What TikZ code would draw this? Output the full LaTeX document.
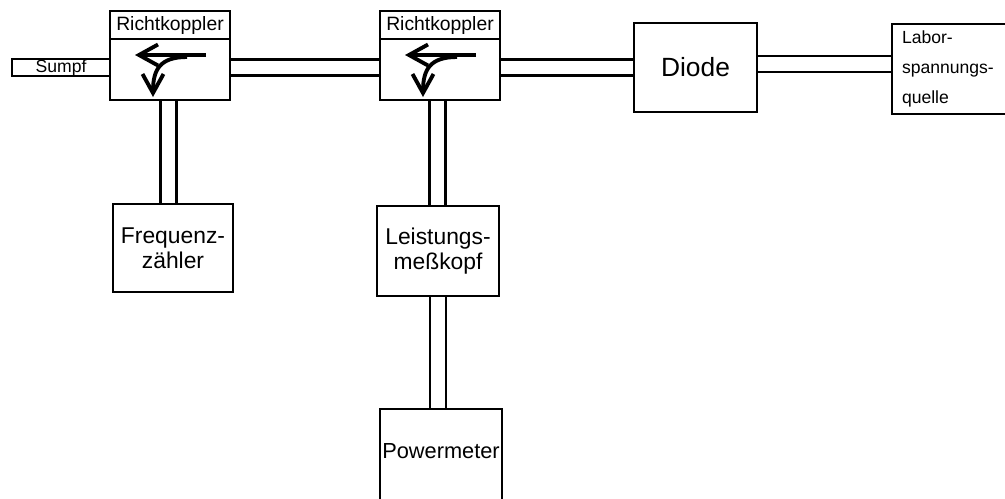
\documentclass[tikz,border=0pt]{standalone}
\usepackage{fontspec}
\setmainfont{Liberation Sans}
\usetikzlibrary{arrows.meta,positioning}

\begin{document}
\begin{tikzpicture}[x=0.02cm,y=-0.02cm,line width=1.4pt,
    box/.style={rectangle,draw,outer sep=0pt,inner sep=0pt},
    tube/.style={double,double distance=0.27cm,shorten <=0.7pt,shorten >=0.7pt},
    coupler arrow/.style={line width=2.2pt,-{Straight Barb[length=3.8mm,width=4.2mm]}},
    coupler label/.style={box,minimum width=2.4cm,minimum height=0.56cm,font=\fontsize{11}{13}\selectfont}]
        \useasboundingbox (0,0) rectangle (1005,498);
        \node[box,minimum width=2.4cm,minimum height=1.22cm] (rk1) at (170,69.5) {};
        \node[box,minimum width=2.4cm,minimum height=1.22cm] (rk2) at (440,69.5) {};
        \node[coupler label,above=0pt of rk1] (rk1lab) {Richtkoppler};
        \node[coupler label,above=0pt of rk2] (rk2lab) {Richtkoppler};
        \node[box,minimum width=1.96cm,minimum height=0.34cm,anchor=east,font=\fontsize{10}{12}\selectfont] (sumpf) at ([yshift=0.04cm]rk1.west) {Sumpf};
        \node[box,minimum width=2.46cm,minimum height=1.78cm,font=\fontsize{15}{17}\selectfont] (diode) at (695.5,67.5) {Diode};
        \node[box,text width=2.06cm,inner xsep=0.2cm,minimum height=1.8cm,align=left,font=\fontsize{10}{17}\selectfont] (labor) at (953.5,69) {Labor-\\spannungs-\\quelle};
        \node[box,minimum width=2.4cm,minimum height=1.76cm,align=center,font=\fontsize{13}{14.2}\selectfont] (freq) at (173,248) {Frequenz-\\zähler};
        \node[box,minimum width=2.44cm,minimum height=1.8cm,align=center,font=\fontsize{13}{14.2}\selectfont] (leist) at (438,251) {Leistungs-\\meßkopf};
        \node[box,minimum width=2.44cm,text height=0.98cm,text depth=1.02cm,font=\fontsize{12.4}{14}\selectfont] (power) at (441,459) {Powermeter};
        % hollow waveguide sections
        \draw[tube] ([yshift=0.04cm]rk1.east) -- ([yshift=0.04cm]rk1.east -| rk2.west);
        \draw[tube] ([yshift=0.04cm]rk2.east) -- ([yshift=0.04cm]rk2.east -| diode.west);
        \draw[tube] ([yshift=0.07cm]diode.east) -- ([yshift=0.07cm]diode.east -| labor.west);
        \draw[tube] ([xshift=-0.03cm]rk1.south) -- ([xshift=-0.03cm]rk1.south |- freq.north);
        \draw[tube] ([xshift=-0.05cm]rk2.south) -- ([xshift=-0.05cm]rk2.south |- leist.north);
        \draw[tube] (leist.south) -- (leist.south |- power.north);
        % coupling arrows
        \foreach \k in {rk1,rk2}{
          \begin{scope}[shift={(\k.center)}]
            \draw[coupler arrow] (36,-14.5) -- (-35,-14.5);
            \draw[coupler arrow] (17,-12.5) .. controls (-10,-12.5) and (-17,0) .. (-17,27.5);
          \end{scope}
        }
      \end{tikzpicture}
\end{document}
